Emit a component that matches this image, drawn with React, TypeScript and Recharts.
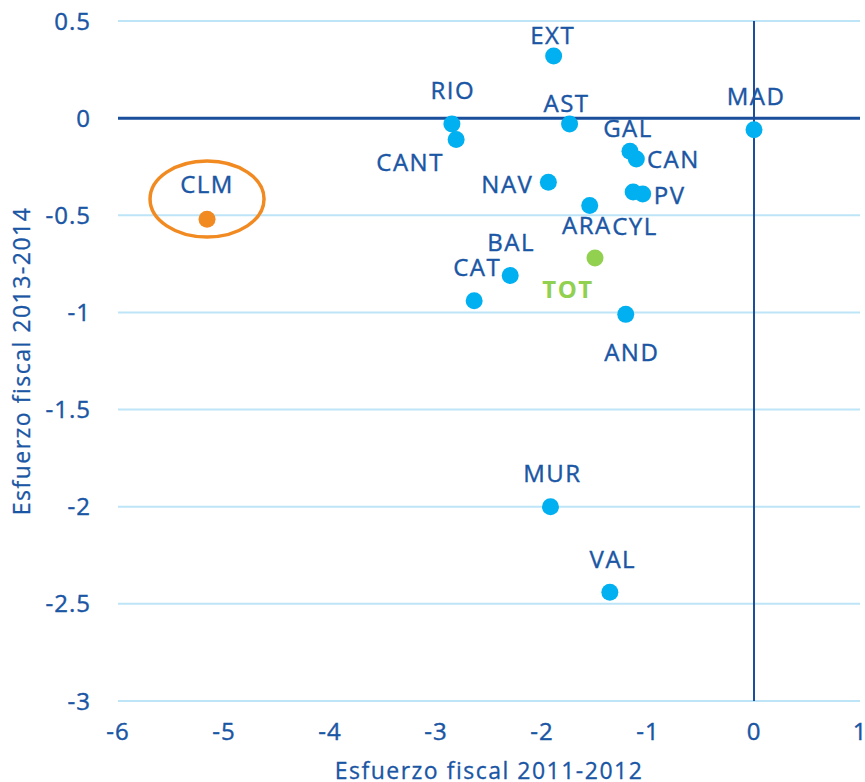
import React from 'react';
import {
  ScatterChart,
  Scatter,
  XAxis,
  YAxis,
  ZAxis,
  CartesianGrid,
  ReferenceLine,
  ReferenceDot,
  Label
} from 'recharts';

// regions (comunidades autonomas), effort 2011-2012 (x) vs 2013-2014 (y)
const regions = ['EXT', 'RIO', 'CANT', 'AST', 'MAD', 'GAL', 'CAN', 'NAV', 'PV', 'CYL', 'ARA', 'BAL', 'CAT', 'AND', 'MUR', 'VAL'];
const effort2011 = [-1.89, -2.85, -2.81, -1.74, 0, -1.17, -1.11, -1.94, -1.05, -1.14, -1.55, -2.30, -2.64, -1.21, -1.92, -1.36];
const effort2013 = [0.32, -0.03, -0.11, -0.03, -0.06, -0.17, -0.21, -0.33, -0.39, -0.38, -0.45, -0.81, -0.94, -1.01, -2.00, -2.44];

const totalName = 'TOT';
const totalX = -1.5;
const totalY = -0.72;

const highlightName = 'CLM';
const highlightX = -5.16;
const highlightY = -0.52;

const xTicks = [-6, -5, -4, -3, -2, -1, 0, 1];
const yTicks = [0.5, 0, -0.5, -1, -1.5, -2, -2.5, -3];

const xTitle = 'Esfuerzo fiscal 2011-2012';
const yTitle = 'Esfuerzo fiscal 2013-2014';

const regionPoints = regions.map((name, i) => ({ name, x: effort2011[i], y: effort2013[i] }));
const totalPoints = [{ name: totalName, x: totalX, y: totalY }];
const highlightPoints = [{ name: highlightName, x: highlightX, y: highlightY }];

// label placement relative to each dot (pixels)
const labelPlacement: Record<string, { dx: number; dy: number; anchor?: 'start' | 'middle' | 'end' }> = {
  EXT: { dx: -1, dy: -21 },
  RIO: { dx: 1, dy: -34 },
  CANT: { dx: -46, dy: 22 },
  AST: { dx: -3, dy: -21 },
  MAD: { dx: 2, dy: -34 },
  GAL: { dx: -2, dy: -24 },
  CAN: { dx: 37, dy: 0 },
  NAV: { dx: -41, dy: 1 },
  PV: { dx: 27, dy: 1 },
  CYL: { dx: -21, dy: 34, anchor: 'start' },
  ARA: { dx: 22, dy: 19, anchor: 'end' },
  BAL: { dx: 1, dy: -34 },
  CAT: { dx: 3, dy: -34 },
  AND: { dx: 6, dy: 37 },
  MUR: { dx: 2, dy: -34 },
  VAL: { dx: 3, dy: -34 },
  TOT: { dx: -27, dy: 30 },
  CLM: { dx: 0, dy: -36 }
};

const DARK = '#1A56A4';
const DOT = '#00B0F0';
const GREEN = '#92D050';
const ORANGE = '#F28A22';
const FONT = '"Open Sans", sans-serif';

const makeDot = (fill: string, textColor: string, bold = false) => (props: any) => {
  const { cx, cy, payload } = props;
  const p = labelPlacement[payload.name] || { dx: 0, dy: -30 };
  return (
    <g>
      <circle cx={cx} cy={cy} r={8.5} fill={fill} />
      <text
        x={cx + p.dx}
        y={cy + p.dy}
        textAnchor={p.anchor || 'middle'}
        dominantBaseline="central"
        fill={textColor}
        stroke={bold ? 'none' : textColor}
        strokeWidth={0.4}
        fontSize={24}
        fontWeight={bold ? 700 : 400}
        letterSpacing={1.5}
        fontFamily={FONT}
      >
        {payload.name}
      </text>
    </g>
  );
};

const tickStyle = { fill: DARK, stroke: DARK, strokeWidth: 0.4, fontSize: 24, fontFamily: FONT, letterSpacing: 1 };
const titleStyle = { fill: DARK, stroke: DARK, strokeWidth: 0.3, fontSize: 23, fontFamily: FONT, letterSpacing: 1.5 };

export default function App() {
  return (
    <div style={{ position: 'absolute', left: 0, top: 0, width: 865, height: 782, background: '#fff' }}>
      <ScatterChart width={865} height={782} margin={{ top: 21, right: 5, bottom: 0, left: 0 }}>
        <CartesianGrid vertical={false} stroke="#BDE5F7" strokeWidth={2} />
        <XAxis
          type="number"
          dataKey="x"
          domain={[-6, 1]}
          ticks={xTicks}
          interval={0}
          axisLine={false}
          tickLine={false}
          tickSize={0}
          tickMargin={22}
          height={81}
          tick={tickStyle}
        >
          <Label value={xTitle} position="insideBottom" offset={3} style={titleStyle} />
        </XAxis>
        <YAxis
          type="number"
          dataKey="y"
          domain={[-3, 0.5]}
          ticks={yTicks}
          interval={0}
          axisLine={false}
          tickLine={false}
          tickSize={0}
          tickMargin={27}
          width={118}
          tick={tickStyle}
        >
          <Label
            value={yTitle}
            angle={-90}
            position="insideLeft"
            offset={22}
            style={{ ...titleStyle, textAnchor: 'middle' }}
          />
        </YAxis>
        <ZAxis range={[220, 220]} />
        <ReferenceLine y={0} stroke="#1B4F9C" strokeWidth={3} />
        <ReferenceLine x={0} stroke="#1B4F9C" strokeWidth={2} />
        <ReferenceDot
          x={highlightX}
          y={highlightY + 0.104}
          r={1}
          shape={(props: any) => (
            <ellipse cx={props.cx} cy={props.cy} rx={57} ry={38} fill="none" stroke={ORANGE} strokeWidth={3.5} />
          )}
        />
        <Scatter data={regionPoints} isAnimationActive={false} shape={makeDot(DOT, DARK)} />
        <Scatter data={totalPoints} isAnimationActive={false} shape={makeDot(GREEN, GREEN, true)} />
        <Scatter data={highlightPoints} isAnimationActive={false} shape={makeDot(ORANGE, DARK)} />
      </ScatterChart>
    </div>
  );
}
